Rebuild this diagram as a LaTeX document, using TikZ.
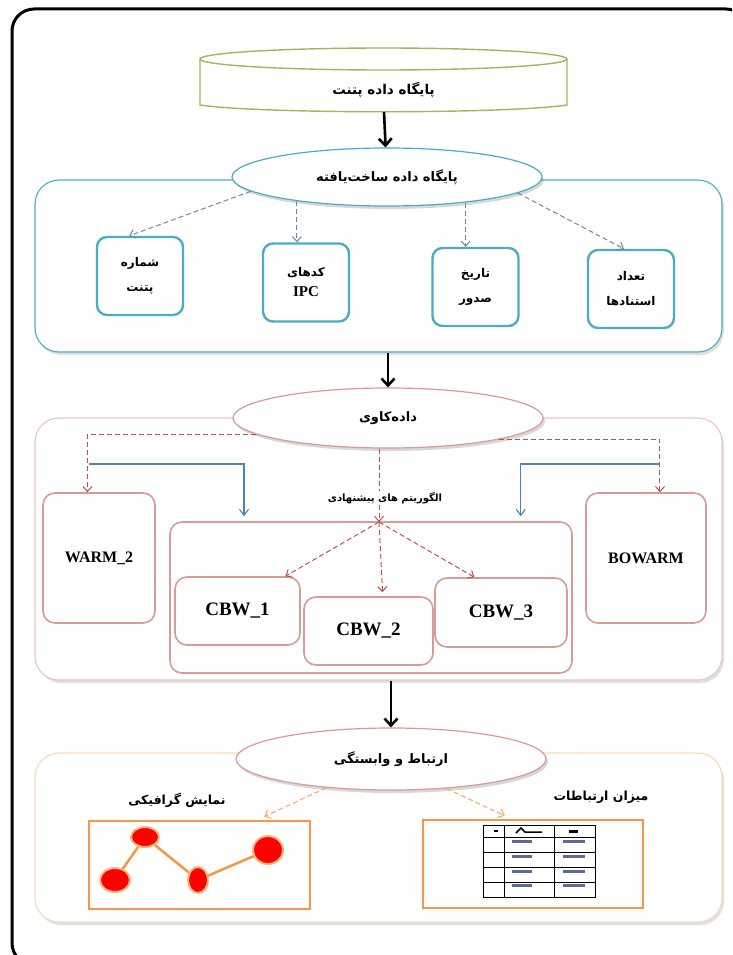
\documentclass[tikz,border=0pt]{standalone}
\usepackage{fontspec}
\setmainfont{Liberation Serif}
\newfontfamily\farsifont[Script=Arabic]{DejaVu Sans}
\TeXXeTstate=1
\usetikzlibrary{shapes.geometric,arrows.meta,shadows}
\definecolor{dbgreen}{HTML}{9BBB59}
\definecolor{dbblue}{HTML}{4BACC6}
\definecolor{attrgray}{HTML}{6F86AE}
\definecolor{minepink}{HTML}{D99A98}
\definecolor{minered}{HTML}{C0504D}
\definecolor{minelight}{HTML}{EBC6C5}
\definecolor{linkblue}{HTML}{4F81BD}
\definecolor{relorange}{HTML}{F79646}
\definecolor{rellight}{HTML}{FAD9C0}
\definecolor{cellgray}{HTML}{5D6C8C}
\newcommand{\fatext}[1]{{\farsifont\bfseries\beginR #1\endR}}

\begin{document}
\begin{tikzpicture}[x=1pt,y=-1pt,
  sectionframe/.style={rounded corners=24, fill=white, line width=1.1,
    drop shadow={opacity=0.25,shadow xshift=2pt,shadow yshift=-3pt}},
  stage/.style={ellipse, draw, fill=white, line width=1.2, minimum width=310,
    minimum height=60, font=\fontsize{13}{15}\selectfont,
    drop shadow={opacity=0.3,shadow xshift=2pt,shadow yshift=-3pt}},
  attrbox/.style={draw=dbblue, line width=2.4, rounded corners=10, fill=white,
    minimum width=86, minimum height=78, align=center,
    font=\fontsize{12}{14}\selectfont\bfseries},
  minebox/.style={draw=minepink, line width=1.6, rounded corners=12, fill=white,
    font=\fontsize{19}{22}\selectfont\bfseries},
  relbox/.style={draw=relorange, line width=2.6, fill=white},
  dot/.style={ellipse, fill=red, draw=relorange!70, line width=2, inner sep=0},
  bigarrow/.style={line width=2.6, -{Straight Barb[length=7pt,width=13pt]}},
  attrlink/.style={attrgray, line width=1, dash pattern=on 5pt off 3pt,
    -{Straight Barb[length=5pt,width=9pt]}},
  minelink/.style={minered, line width=1, dash pattern=on 5pt off 3pt,
    -{Straight Barb[length=5pt,width=9pt]}},
  bluelink/.style={linkblue, line width=1.1, -{Straight Barb[length=6pt,width=9pt]}},
  rellink/.style={relorange!80, line width=1.1, dash pattern=on 5pt off 3pt,
    -{Straight Barb[length=5pt,width=9pt]}}]
\useasboundingbox (0,0) rectangle (732,955);
\clip (0,0) rectangle (732,955);
\draw[line width=3, rounded corners=22] (12,9) rectangle (748,965);

% patent database and structured data
\node (structframe) [sectionframe, draw=dbblue, minimum width=687, minimum height=172] at (378.5,266) {};
\draw[dbgreen, line width=1.4, fill=white] (200,59) -- (200,105) .. controls (260,114) and (507,114) .. (567,105) -- (567,59);
\draw[dbgreen, line width=1.4] (383.5,59) ellipse [x radius=183.5, y radius=11];
\node (patentdb) [font=\fontsize{13.5}{15}\selectfont] at (383.5,90) {\fatext{پایگاه داده پتنت}};
\coordinate (patentbase) at (384,112);
\node (patentbox) [attrbox] at (140,276) {\fatext{شماره}\\[11pt]\fatext{پتنت}};
\node (ipcbox) [attrbox] at (306,282.5) {\fatext{کدهای}\\[6pt]{\fontsize{15}{18}\selectfont IPC}};
\node (datebox) [attrbox] at (475.5,287) {\fatext{تاریخ}\\[11pt]\fatext{صدور}};
\node (countbox) [attrbox] at (631,289) {\fatext{تعداد}\\[11pt]\fatext{استنادها}};
\node (structdb) [stage, draw=dbblue, minimum height=58] at (387,177) {\fatext{پایگاه داده ساخت‌یافته}};
\draw[bigarrow] (patentbase) -- (structdb);
\draw[attrlink] (structdb.186) -- (patentbox.105);
\draw[attrlink] (structdb.195) -- (structdb.195 |- ipcbox.north);
\draw[attrlink] (structdb.342) -- (structdb.342 |- datebox.north);
\draw[attrlink] (structdb.353) -- (countbox.100);

% data mining
\node (miningframe) [sectionframe, draw=minelight, minimum width=687, minimum height=262] at (378.5,549) {};
\node (warmbox) [minebox, minimum width=112, minimum height=130, font=\fontsize{16}{19}\selectfont\bfseries] at (99,558) {WARM\_2};
\node (bowarmbox) [minebox, minimum width=120, minimum height=130, font=\fontsize{16}{19}\selectfont\bfseries] at (646,558) {BOWARM};
\node (algbox) [minebox, minimum width=402, minimum height=151] at (371,597.5) {};
\node (cbwone) [minebox, minimum width=125, minimum height=68] at (237.5,611) {CBW\_1};
\node (cbwtwo) [minebox, minimum width=129, minimum height=68] at (368.5,631) {CBW\_2};
\node (cbwthree) [minebox, minimum width=132, minimum height=69] at (501,612.5) {CBW\_3};
\node (mining) [stage, draw=minepink] at (388,418) {\fatext{داده‌کاوی}};
\draw[bigarrow] (mining.north |- structframe.south) -- (mining.north);
\coordinate (algtop) at (379,522);
\coordinate (leftsplit) at (89,464);
\coordinate (rightsplit) at (660,464);
\draw[minelink] (mining.south -| algtop) -- (algtop);
\draw[minelink] (mining.187) -| (warmbox.100);
\draw[minelink] (mining.349) -| (bowarmbox.78);
\draw[bluelink] (leftsplit) -| ([yshift=5pt]algbox.149);
\draw[bluelink] (rightsplit) -| ([yshift=5pt]algbox.27);
\draw[minelink] (algtop) -- (cbwone.36);
\draw[minelink] (algtop) -- ([yshift=4pt]cbwtwo.68);
\draw[minelink] (algtop) -- (cbwthree.127);
\node (alglabel) [fill=white, inner sep=1pt, font=\fontsize{10}{12}\selectfont] at (385,498) {\fatext{الگوریتم های پیشنهادی}};

% relations
\node (relframe) [sectionframe, draw=rellight, minimum width=687, minimum height=169] at (378.5,837.5) {};
\node (relation) [stage, draw=minepink, minimum height=62] at (391,759) {\fatext{ارتباط و وابستگی}};
\draw[bigarrow] (relation.north |- miningframe.south) -- (relation.north);
\node (graphlabel) [font=\fontsize{12.5}{14}\selectfont] at (177,800) {\fatext{نمایش گرافیکی}};
\node (ratelabel) [font=\fontsize{12.5}{14}\selectfont] at (601,797) {\fatext{میزان ارتباطات}};
\node (graphbox) [relbox, minimum width=221, minimum height=88] at (199.5,865) {};
\node (tablebox) [relbox, minimum width=220, minimum height=88] at (533,864) {};
\draw[rellink] (relation.204) -- ([yshift=3pt]graphbox.35);
\draw[rellink] (relation.332) -- ([yshift=3pt]tablebox.122);
\draw[relorange, line width=2.5] (115,880) -- (145,837) -- (198,880) -- (268,850);
\node (dotA) [dot, minimum width=30, minimum height=24] at (115,880) {};
\node (dotB) [dot, minimum width=28, minimum height=20] at (145,837) {};
\node (dotC) [dot, minimum width=20, minimum height=26] at (198,880) {};
\node (dotD) [dot, minimum width=30, minimum height=28] at (268,850) {};
\draw[line width=1] (483,825) rectangle (595,897);
\draw[line width=1] (504,825) -- (504,897) (554,825) -- (554,897);
\foreach \y in {837,852,867,882}
  \draw[line width=1] (483,\y) -- (595,\y);
\foreach \y in {840,855,870,884} {
  \fill[cellgray] (512,\y) rectangle (532,\y+2.5);
  \fill[cellgray] (563,\y) rectangle (585,\y+2.5);
}
\draw[line width=1.2] (494,831) -- (498,831);
\draw[line width=1.5] (516,833) -- (521,828) -- (525,832) -- (542,832);
\fill (569,830) rectangle (578,833);
\end{tikzpicture}
\end{document}
